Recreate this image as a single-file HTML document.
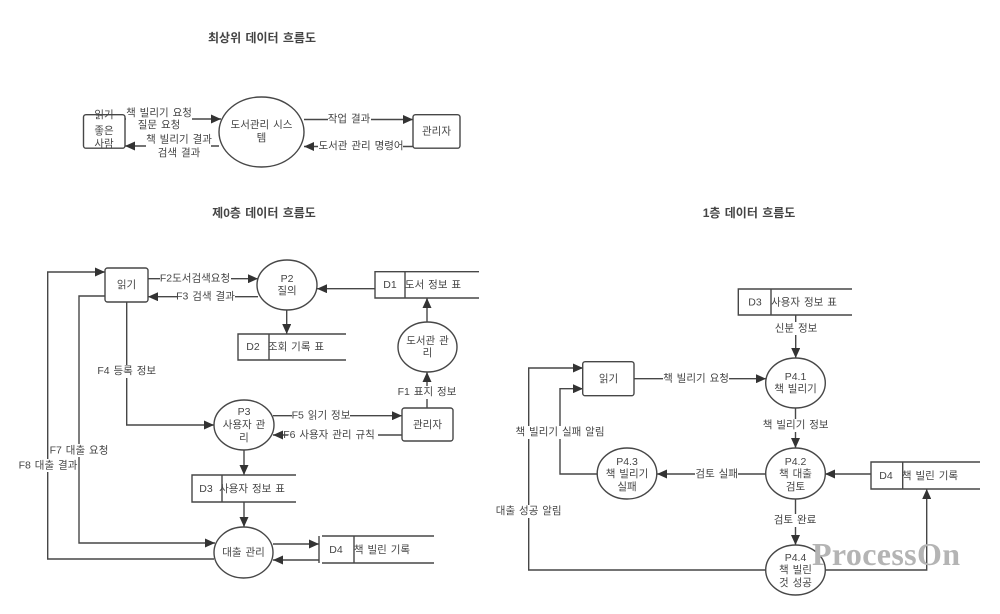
<!DOCTYPE html>
<html lang="ko">
<head>
<meta charset="utf-8">
<title>데이터 흐름도</title>
<style>
html,body{margin:0;padding:0;background:#fff;width:1000px;height:614px;overflow:hidden}
svg{display:block;filter:blur(.35px)}
text{font-family:"Liberation Sans","Noto Sans CJK KR",sans-serif;font-size:10.5px;fill:#454545;text-anchor:middle;dominant-baseline:central;word-spacing:1px}
.t{font-weight:700;font-size:12px;fill:#444}
.l,.s{fill:none;stroke:#474747;stroke-width:1.4}
.a{marker-end:url(#ah)}
.s{fill:#fff}
.k rect{fill:#fff}
.w{font-family:"Liberation Serif",serif;font-weight:700;font-size:32px;fill:#b4b4b4;text-anchor:start;dominant-baseline:alphabetic;word-spacing:0}
</style>
</head>
<body>
<svg width="1000" height="614" viewBox="0 0 1000 614" xmlns="http://www.w3.org/2000/svg">
<defs>
<marker id="ah" markerUnits="userSpaceOnUse" markerWidth="11" markerHeight="9" refX="10" refY="4.500" orient="auto">
<path d="M0 0L10 4.500L0 9Z" fill="#333"/>
</marker>
</defs>

<!-- titles -->
<text class="t" x="262" y="38">최상위 데이터 흐름도</text>
<text class="t" x="264" y="213">제0층 데이터 흐름도</text>
<text class="t" x="749" y="213">1층 데이터 흐름도</text>

<!-- CONNECTORS -->
<path class="l a" d="M125 119H221"/>
<path class="l a" d="M219 146H125"/>
<path class="l a" d="M304 119.500H413"/>
<path class="l a" d="M413 146.500H304"/>

<path class="l a" d="M148 278.700H258"/>
<path class="l a" d="M258 296.700H148"/>
<path class="l a" d="M375 288.700H317"/>
<path class="l a" d="M286.700 310V334"/>
<path class="l a" d="M427 322V298"/>
<path class="l a" d="M427 408V372"/>
<path class="l a" d="M126.700 302V425H214"/>
<path class="l a" d="M105 296H79V543H215"/>
<path class="l a" d="M214 559H47.700V272H105"/>
<path class="l a" d="M273 415.700H402"/>
<path class="l a" d="M402 435H273"/>
<path class="l a" d="M244 450V475"/>
<path class="l a" d="M244 502V527"/>
<path class="l a" d="M273 544H319"/>
<path class="l a" d="M319 560H273"/>

<path class="l a" d="M634 378.700H766"/>
<path class="l a" d="M795.700 315V358"/>
<path class="l a" d="M795.500 408V448"/>
<path class="l a" d="M766 474H657"/>
<path class="l a" d="M871 474H825"/>
<path class="l a" d="M795.500 499V545"/>
<path class="l a" d="M597 474H560V388.700H583"/>
<path class="l a" d="M766 570H528.700V368H583"/>
<path class="l a" d="M825 570H926.700V489"/>

<!-- label backgrounds -->
<g class="k">
<rect x="126" y="107" width="66" height="24"/>
<rect x="146" y="133" width="65" height="26"/>
<rect x="328" y="113" width="43" height="13"/>
<rect x="318" y="140" width="85" height="13"/>
<rect x="160" y="272" width="71" height="13"/>
<rect x="177" y="290" width="58" height="13"/>
<rect x="98" y="365" width="57" height="13"/>
<rect x="398" y="386" width="58" height="13"/>
<rect x="292" y="409" width="58" height="13"/>
<rect x="288" y="429" width="90" height="13"/>
<rect x="50" y="444" width="58" height="13"/>
<rect x="19" y="459" width="58" height="13"/>
<rect x="663" y="372" width="66" height="13"/>
<rect x="774" y="322" width="44" height="13"/>
<rect x="763" y="419" width="66" height="13"/>
<rect x="695" y="468" width="43" height="13"/>
<rect x="774" y="514" width="43" height="13"/>
<rect x="516" y="426" width="88" height="13"/>
<rect x="496" y="505" width="66" height="13"/>
</g>

<!-- TOP DIAGRAM -->
<rect class="s" x="83.500" y="114.700" width="41.500" height="33.500" rx="2.500"/>
<ellipse class="s" cx="261.500" cy="132" rx="42.500" ry="35"/>
<rect class="s" x="413" y="114.700" width="47" height="33.500" rx="2.500"/>
<text x="104" y="115">읽기</text>
<text x="104" y="131">좋은</text>
<text x="104" y="144">사람</text>
<text x="261.500" y="125">도서관리 시스</text>
<text x="261.500" y="138">템</text>
<text x="436.500" y="131.500">관리자</text>
<text x="159" y="113">책 빌리기 요청</text>
<text x="159" y="125">질문 요청</text>
<text x="179" y="139.500">책 빌리기 결과</text>
<text x="179" y="153">검색 결과</text>
<text x="349" y="119">작업 결과</text>
<text x="361" y="146">도서관 관리 명령어</text>

<!-- LEVEL 0 -->
<rect class="s" x="105" y="268" width="43" height="34" rx="2.500"/>
<text x="126.500" y="285">읽기</text>
<ellipse class="s" cx="287" cy="285" rx="30" ry="25"/>
<text x="287" y="279">P2</text>
<text x="287" y="291">질의</text>

<path class="l" d="M479 271.700H375V298H479M405 271.700V298"/>
<text x="390" y="285">D1</text>
<text x="433" y="285">도서 정보 표</text>
<path class="l" d="M346 334H238V360H346M269 334V360"/>
<text x="253" y="347">D2</text>
<text x="296" y="347">조회 기록 표</text>

<ellipse class="s" cx="427.500" cy="347" rx="29.500" ry="25"/>
<text x="427.500" y="341">도서관 관</text>
<text x="427.500" y="353">리</text>

<rect class="s" x="402" y="408" width="51" height="33" rx="2.500"/>
<text x="427.500" y="425">관리자</text>

<ellipse class="s" cx="244" cy="425" rx="30" ry="25"/>
<text x="244" y="412">P3</text>
<text x="244" y="425">사용자 관</text>
<text x="244" y="438">리</text>

<path class="l" d="M296 475H192V502H296M222 475V502"/>
<text x="206" y="489">D3</text>
<text x="252" y="489">사용자 정보 표</text>

<ellipse class="s" cx="243.500" cy="552.500" rx="29.500" ry="25.500"/>
<text x="243.500" y="552.500">대출 관리</text>

<path class="l" d="M319 536V563M322 536H434M322 563H434M354 536V563"/>
<text x="336" y="550">D4</text>
<text x="382" y="550">책 빌린 기록</text>

<text x="195" y="278.500">F2도서검색요청</text>
<text x="205.500" y="296.500">F3 검색 결과</text>
<text x="126.700" y="371">F4 등록 정보</text>
<text x="427" y="392">F1 표지 정보</text>
<text x="321" y="415.500">F5 읽기 정보</text>
<text x="329" y="435">F6 사용자 관리 규칙</text>
<text x="79" y="450.500">F7 대출 요청</text>
<text x="48" y="465.500">F8 대출 결과</text>

<!-- LEVEL 1 -->
<rect class="s" x="582.700" y="361.700" width="51.300" height="34" rx="2.500"/>
<text x="608.500" y="379">읽기</text>

<path class="l" d="M852 289H738.300V315H852M771 289V315"/>
<text x="755" y="302.500">D3</text>
<text x="804" y="302.500">사용자 정보 표</text>

<ellipse class="s" cx="795.500" cy="383" rx="29.800" ry="25"/>
<text x="795.500" y="377">P4.1</text>
<text x="795.500" y="389">책 빌리기</text>

<ellipse class="s" cx="795.500" cy="473.500" rx="29.800" ry="25.500"/>
<text x="795.500" y="462">P4.2</text>
<text x="795.500" y="474">책 대출</text>
<text x="795.500" y="487">검토</text>

<ellipse class="s" cx="627" cy="473.500" rx="29.800" ry="25.500"/>
<text x="627" y="462">P4.3</text>
<text x="627" y="474">책 빌리기</text>
<text x="627" y="487">실패</text>

<ellipse class="s" cx="795.500" cy="570" rx="29.800" ry="25"/>
<text x="795.500" y="558">P4.4</text>
<text x="795.500" y="570">책 빌린</text>
<text x="795.500" y="583">것 성공</text>

<path class="l" d="M980 462H871V489H980M902.700 462V489"/>
<text x="886" y="476">D4</text>
<text x="930" y="476">책 빌린 기록</text>

<text x="696" y="378.500">책 빌리기 요청</text>
<text x="796" y="328.700">신분 정보</text>
<text x="795.700" y="425">책 빌리기 정보</text>
<text x="716.700" y="474">검토 실패</text>
<text x="795" y="520">검토 완료</text>
<text x="560" y="432">책 빌리기 실패 알림</text>
<text x="528.700" y="511">대출 성공 알림</text>

<text class="w" x="812" y="565" textLength="148" lengthAdjust="spacing">ProcessOn</text>
</svg>
</body>
</html>
